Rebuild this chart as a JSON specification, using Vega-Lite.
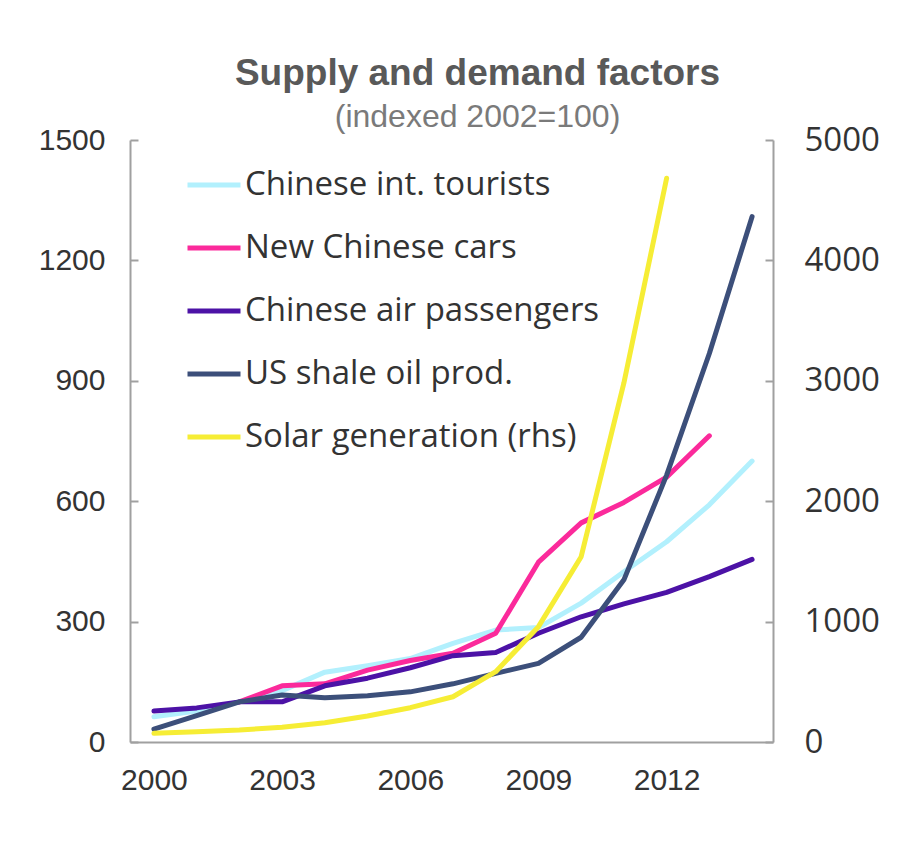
{
  "$schema": "https://vega.github.io/schema/vega-lite/v6.json",
  "width": 643,
  "height": 602,
  "autosize": {"type": "none"},
  "padding": {"left": 130, "top": 140, "right": 131, "bottom": 118},
  "background": "white",
  "title": {
    "text": "Supply and demand factors",
    "subtitle": "(indexed 2002=100)",
    "font": "Liberation Sans",
    "fontSize": 37,
    "fontWeight": "bold",
    "color": "#595959",
    "subtitleFont": "Liberation Sans",
    "subtitleFontSize": 32,
    "subtitleColor": "#7a7a7a",
    "subtitlePadding": 9,
    "anchor": "middle",
    "dx": 26,
    "offset": -10
  },
  "datasets": {
    "main": [
      {"year": 2000, "series": "Chinese int. tourists", "value": 63},
      {"year": 2001, "series": "Chinese int. tourists", "value": 77},
      {"year": 2002, "series": "Chinese int. tourists", "value": 100},
      {"year": 2003, "series": "Chinese int. tourists", "value": 128},
      {"year": 2004, "series": "Chinese int. tourists", "value": 174},
      {"year": 2005, "series": "Chinese int. tourists", "value": 190},
      {"year": 2006, "series": "Chinese int. tourists", "value": 208},
      {"year": 2007, "series": "Chinese int. tourists", "value": 246},
      {"year": 2008, "series": "Chinese int. tourists", "value": 279},
      {"year": 2009, "series": "Chinese int. tourists", "value": 285},
      {"year": 2010, "series": "Chinese int. tourists", "value": 346},
      {"year": 2011, "series": "Chinese int. tourists", "value": 424},
      {"year": 2012, "series": "Chinese int. tourists", "value": 499},
      {"year": 2013, "series": "Chinese int. tourists", "value": 591},
      {"year": 2014, "series": "Chinese int. tourists", "value": 700},
      {"year": 2002, "series": "New Chinese cars", "value": 100},
      {"year": 2003, "series": "New Chinese cars", "value": 140},
      {"year": 2004, "series": "New Chinese cars", "value": 145},
      {"year": 2005, "series": "New Chinese cars", "value": 179},
      {"year": 2006, "series": "New Chinese cars", "value": 203},
      {"year": 2007, "series": "New Chinese cars", "value": 221},
      {"year": 2008, "series": "New Chinese cars", "value": 271},
      {"year": 2009, "series": "New Chinese cars", "value": 448},
      {"year": 2010, "series": "New Chinese cars", "value": 546},
      {"year": 2011, "series": "New Chinese cars", "value": 597},
      {"year": 2012, "series": "New Chinese cars", "value": 660},
      {"year": 2013, "series": "New Chinese cars", "value": 763},
      {"year": 2000, "series": "Chinese air passengers", "value": 77},
      {"year": 2001, "series": "Chinese air passengers", "value": 85},
      {"year": 2002, "series": "Chinese air passengers", "value": 100},
      {"year": 2003, "series": "Chinese air passengers", "value": 100},
      {"year": 2004, "series": "Chinese air passengers", "value": 140},
      {"year": 2005, "series": "Chinese air passengers", "value": 159},
      {"year": 2006, "series": "Chinese air passengers", "value": 185},
      {"year": 2007, "series": "Chinese air passengers", "value": 215},
      {"year": 2008, "series": "Chinese air passengers", "value": 223},
      {"year": 2009, "series": "Chinese air passengers", "value": 271},
      {"year": 2010, "series": "Chinese air passengers", "value": 312},
      {"year": 2011, "series": "Chinese air passengers", "value": 344},
      {"year": 2012, "series": "Chinese air passengers", "value": 373},
      {"year": 2013, "series": "Chinese air passengers", "value": 412},
      {"year": 2014, "series": "Chinese air passengers", "value": 455},
      {"year": 2000, "series": "US shale oil prod.", "value": 32},
      {"year": 2001, "series": "US shale oil prod.", "value": 66},
      {"year": 2002, "series": "US shale oil prod.", "value": 100},
      {"year": 2003, "series": "US shale oil prod.", "value": 117},
      {"year": 2004, "series": "US shale oil prod.", "value": 110},
      {"year": 2005, "series": "US shale oil prod.", "value": 115},
      {"year": 2006, "series": "US shale oil prod.", "value": 125},
      {"year": 2007, "series": "US shale oil prod.", "value": 145},
      {"year": 2008, "series": "US shale oil prod.", "value": 171},
      {"year": 2009, "series": "US shale oil prod.", "value": 196},
      {"year": 2010, "series": "US shale oil prod.", "value": 261},
      {"year": 2011, "series": "US shale oil prod.", "value": 404},
      {"year": 2012, "series": "US shale oil prod.", "value": 665},
      {"year": 2013, "series": "US shale oil prod.", "value": 968},
      {"year": 2014, "series": "US shale oil prod.", "value": 1309}
    ],
    "solar": [
      {"year": 2000, "series": "Solar generation (rhs)", "value": 72},
      {"year": 2001, "series": "Solar generation (rhs)", "value": 86},
      {"year": 2002, "series": "Solar generation (rhs)", "value": 100},
      {"year": 2003, "series": "Solar generation (rhs)", "value": 122},
      {"year": 2004, "series": "Solar generation (rhs)", "value": 160},
      {"year": 2005, "series": "Solar generation (rhs)", "value": 216},
      {"year": 2006, "series": "Solar generation (rhs)", "value": 285},
      {"year": 2007, "series": "Solar generation (rhs)", "value": 376},
      {"year": 2008, "series": "Solar generation (rhs)", "value": 584},
      {"year": 2009, "series": "Solar generation (rhs)", "value": 958},
      {"year": 2010, "series": "Solar generation (rhs)", "value": 1539},
      {"year": 2011, "series": "Solar generation (rhs)", "value": 2982},
      {"year": 2012, "series": "Solar generation (rhs)", "value": 4682}
    ]
  },
  "layer": [
    {
      "data": {"name": "main"},
      "mark": {"type": "line", "strokeWidth": 5, "strokeCap": "round", "strokeJoin": "round"},
      "encoding": {
        "x": {
          "field": "year", "type": "quantitative",
          "scale": {"domain": [1999.44, 2014.49], "nice": false, "zero": false},
          "axis": {
            "values": [2000, 2003, 2006, 2009, 2012], "format": "d", "title": null,
            "grid": false, "ticks": false, "labelFont": "Liberation Sans", "labelFontSize": 30,
            "labelColor": "#333333", "labelPadding": 23, "domainColor": "#a0a0a0", "domainWidth": 2,
            "labelFlush": false
          }
        },
        "y": {
          "field": "value", "type": "quantitative",
          "scale": {"domain": [0, 1500], "nice": false},
          "axis": {
            "orient": "left", "values": [0, 300, 600, 900, 1200, 1500], "format": "d", "title": null, "grid": false,
            "tickSize": -8, "tickColor": "#a0a0a0", "tickWidth": 2, "domainColor": "#a0a0a0", "domainWidth": 2,
            "labelFont": "Liberation Sans", "labelFontSize": 30, "labelColor": "#333333", "labelPadding": 33
          }
        },
        "color": {
          "field": "series", "type": "nominal",
          "scale": {
            "domain": ["Chinese int. tourists", "New Chinese cars", "Chinese air passengers", "US shale oil prod.", "Solar generation (rhs)"],
            "range": ["#b2f0fd", "#fb2a9b", "#4c12a6", "#3c4f7a", "#f6ed35"]
          },
          "legend": {
            "title": null, "orient": "none", "legendX": 55, "legendY": 16,
            "symbolType": "stroke", "symbolSize": 2809, "symbolStrokeWidth": 5,
            "labelFont": "Open Sans", "labelFontSize": 33, "labelColor": "#333333",
            "labelOffset": 2, "rowPadding": 17, "padding": 0, "labelLimit": 600
          }
        }
      }
    },
    {
      "data": {"name": "solar"},
      "mark": {"type": "line", "strokeWidth": 5, "strokeCap": "round", "strokeJoin": "round"},
      "encoding": {
        "x": {"field": "year", "type": "quantitative"},
        "y": {
          "field": "value", "type": "quantitative",
          "scale": {"domain": [0, 5000], "nice": false},
          "axis": {
            "orient": "right", "values": [0, 1000, 2000, 3000, 4000, 5000], "format": "d", "title": null, "grid": false,
            "tickSize": -8, "tickColor": "#a0a0a0", "tickWidth": 2, "domainColor": "#a0a0a0", "domainWidth": 2,
            "labelFont": "Open Sans", "labelFontSize": 33, "labelColor": "#333333", "labelPadding": 39
          }
        },
        "color": {"field": "series", "type": "nominal"}
      }
    }
  ],
  "resolve": {"scale": {"y": "independent"}},
  "config": {"view": {"stroke": null}}
}
